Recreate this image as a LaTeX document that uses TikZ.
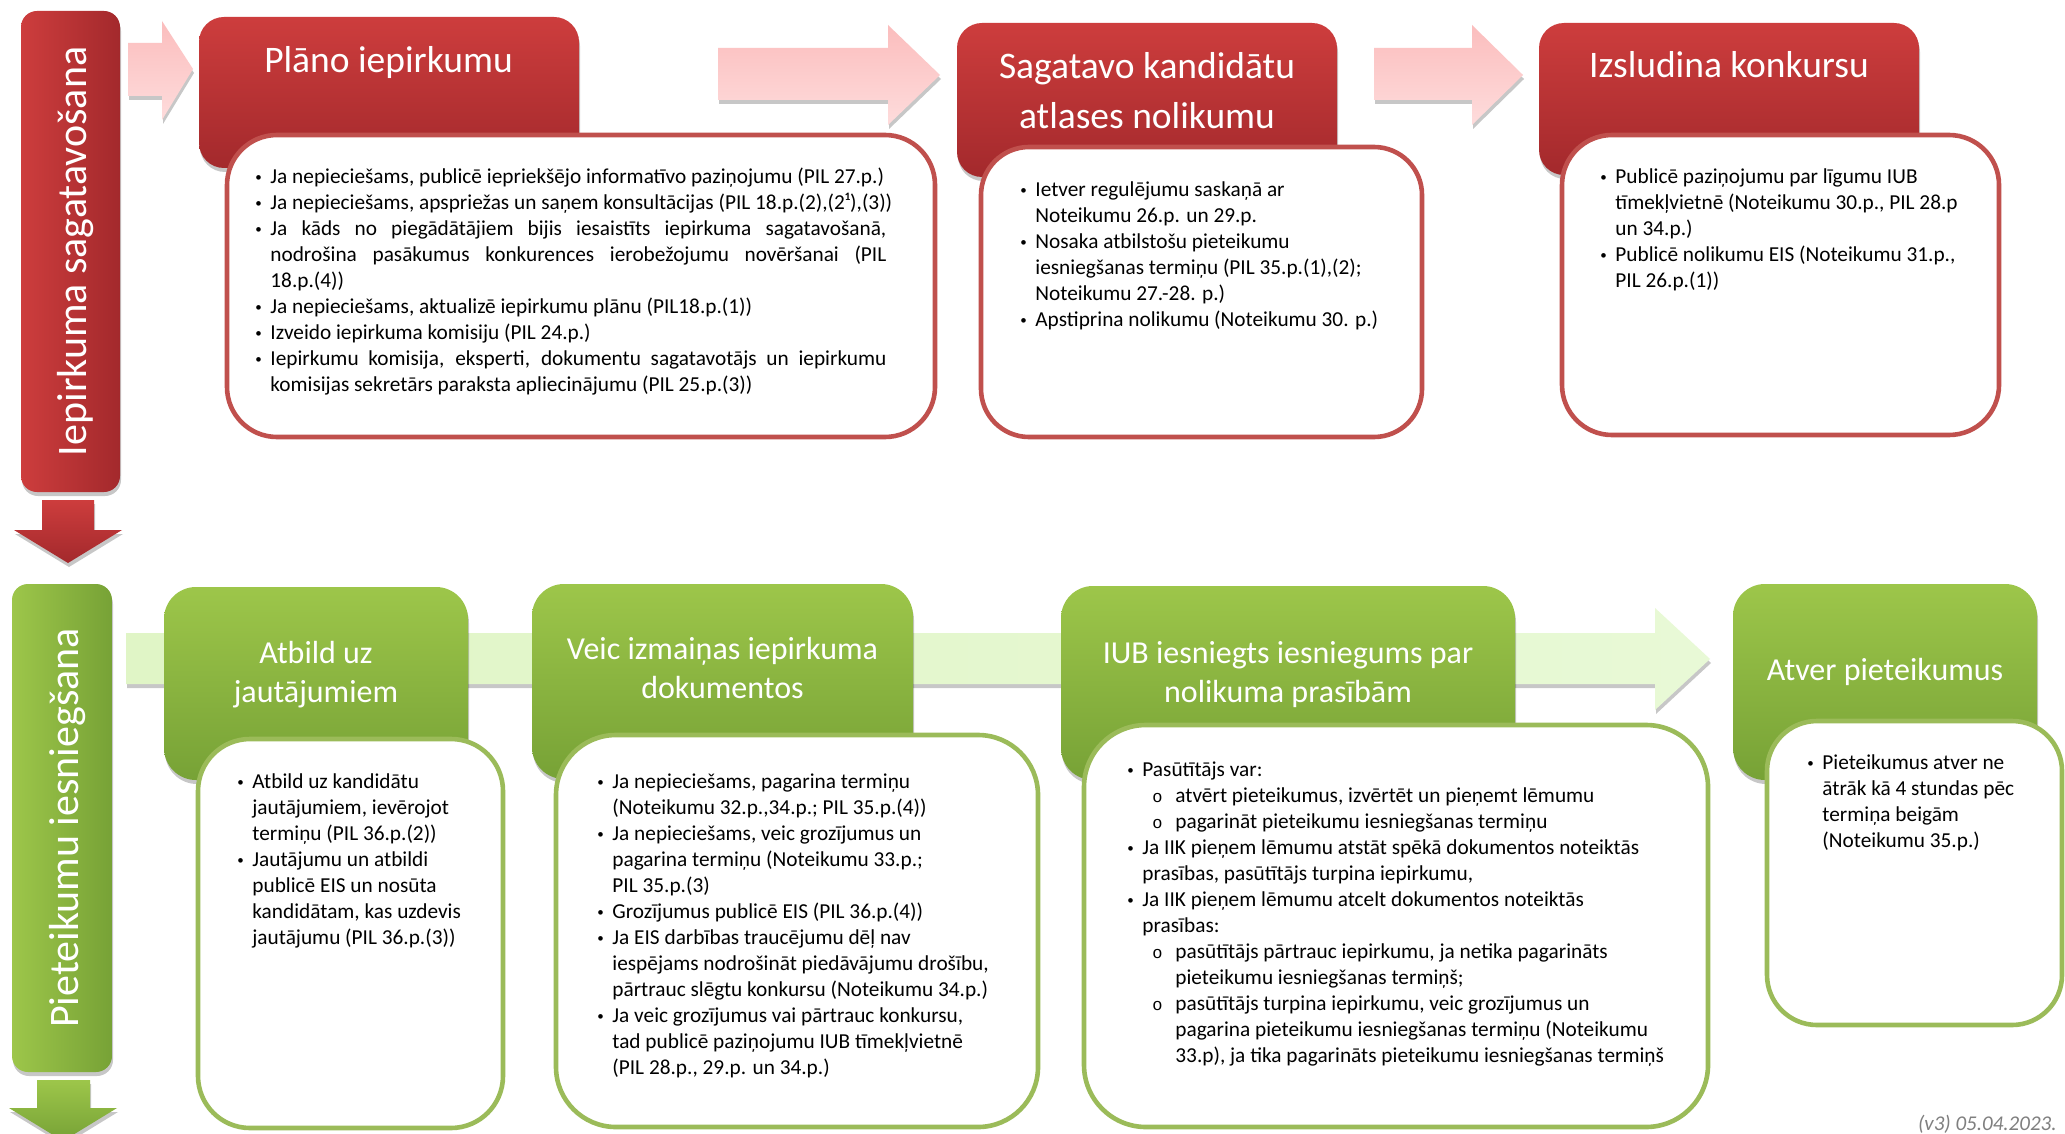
\documentclass[tikz,border=0pt]{standalone}
\usepackage{fontspec}
\setmainfont{Carlito}
\newfontfamily\monof{Liberation Mono}
\usetikzlibrary{shadows}
\definecolor{redA}{HTML}{CD3D3D}
\definecolor{redB}{HTML}{A3292C}
\definecolor{redLine}{HTML}{C0504D}
\definecolor{pinkA}{HTML}{FBBDBD}
\definecolor{pinkB}{HTML}{FEDCDC}
\definecolor{grnA}{HTML}{9DC64A}
\definecolor{grnB}{HTML}{77A236}
\definecolor{grnLine}{HTML}{9BBB59}
\definecolor{bandA}{HTML}{E0F5C6}
\definecolor{bandB}{HTML}{E8F9D6}
\definecolor{verGray}{HTML}{7F7F7F}
\newlength\bh
\setlength\bh{7.5pt}
\newcommand\Dot{\raisebox{1.1pt}{\fontsize{6.5pt}{6.5pt}\selectfont\textbullet}}
\newcommand\Bl[1]{\mbox{\makebox[\bh][l]{\Dot}#1}}
\newcommand\Cl[1]{\mbox{\hspace*{\bh}#1}}
\newcommand\Jb[1]{\hbox to 315.5pt{\makebox[\bh][l]{\Dot}#1}}
\newcommand\Jc[1]{\hbox to 315.5pt{\hspace*{\bh}#1}}
\newcommand\Sb[1]{\mbox{\hspace*{12.5pt}\makebox[11.5pt][l]{\fontsize{8.5pt}{8.5pt}\monof o}#1}}
\newcommand\Sc[1]{\mbox{\hspace*{24pt}#1}}
\newcommand\St{\rule{0pt}{10pt}}
\newcommand\RBox[6]{\node[#2, inner sep=0pt, minimum width={(#5-#3)*0.5pt}, minimum height={(#6-#4)*0.5pt}] (#1) at ({(#3+#5)/2},{(#4+#6)/2}) {};}
\tikzset{
  sh/.style={drop shadow={shadow xshift=0.5pt, shadow yshift=-2pt, opacity=0.22, fill=black}},
  barred/.style={rounded corners=8pt, left color=redA, right color=redB, draw=none, sh},
  bargrn/.style={rounded corners=8pt, left color=grnA, right color=grnB, draw=none, sh},
  redhead/.style={rounded corners=12.5pt, top color=redA, bottom color=redB, draw=none, sh},
  grnhead/.style={rounded corners=16pt, top color=grnA, bottom color=grnB, draw=none, sh},
  redbox/.style={draw=redLine, line width=2.3pt, fill=white, rounded corners=#1},
  grnbox/.style={draw=grnLine, line width=2.3pt, fill=white, rounded corners=#1},
  pinkarrow/.style={top color=pinkA, bottom color=pinkB, draw=none, sh},
  redarrow/.style={top color=redA, bottom color=redB, draw=none, sh},
  grnarrow/.style={top color=grnA, bottom color=grnB, draw=none, sh},
  band/.style={left color=bandA, right color=bandB, draw=none, sh},
  bartext/.style={rotate=90, anchor=base, text=white, inner sep=0pt, font=\fontsize{21pt}{25pt}\selectfont},
  rtitle/.style={anchor=north, text=white, inner sep=0pt, align=center, font=\fontsize{18.75pt}{25pt}\selectfont},
  gtitle/.style={anchor=north, text=white, inner sep=0pt, align=center, font=\fontsize{16pt}{19.5pt}\selectfont},
  btext/.style={anchor=north west, inner sep=0pt, align=left, text=black, font={\fontsize{10.65pt}{13pt}\selectfont}},
}
\begin{document}
\begin{tikzpicture}[x=0.5pt,y=-0.5pt]
\useasboundingbox (0,0) rectangle (2065,1134);
\clip (0,0) rectangle (2065,1134);
\fill[white] (0,0) rectangle (2065,1134);

% ---------- top row ----------
\RBox{barR}{barred}{21}{11}{120}{492}
\node[bartext] (barRt) at (86,251.5) {Iepirkuma sagatavošana};
\path[redarrow] (42,500) -- (94,500) -- (94,530) -- (122,530) -- (68,563) -- (14,530) -- (42,530) -- cycle;

\path[pinkarrow] (128,43) -- (162,43) -- (162,21) -- (193,69) -- (162,120) -- (162,96) -- (128,96) -- cycle;
\path[pinkarrow] (718,48) -- (888,48) -- (888,25) -- (940,75) -- (888,125) -- (888,100) -- (718,100) -- cycle;
\path[pinkarrow] (1374,48) -- (1472,48) -- (1472,25) -- (1523,75) -- (1472,125) -- (1472,100) -- (1374,100) -- cycle;

\RBox{h1}{redhead}{199}{17}{579}{168}
\RBox{h2}{redhead}{957}{23}{1337}{177}
\RBox{h3}{redhead}{1539}{23}{1919}{175}
\node[rtitle] (t1) at (388.5,40) {\rule{0pt}{16pt}Plāno iepirkumu};
\node[rtitle] (t2) at (1147,46) {\rule{0pt}{16pt}Sagatavo kandidātu\\atlases nolikumu};
\node[rtitle] (t3) at (1729,45) {\rule{0pt}{16pt}Izsludina konkursu};

\RBox{b1}{redbox=25pt}{227}{135}{935}{437}
\RBox{b2}{redbox=24pt}{981}{147}{1422}{437}
\RBox{b3}{redbox=25pt}{1562}{135}{1999}{435}

\node[btext] (x1) at (255,163) {\St\Bl{Ja nepieciešams, publicē iepriekšējo informatīvo paziņojumu (PIL 27.p.)}\\
\Bl{Ja nepieciešams, apspriežas un saņem konsultācijas (PIL 18.p.(2),(2¹),(3))}\\
\Jb{Ja kāds no piegādātājiem bijis iesaistīts iepirkuma sagatavošanā,}\\
\Jc{nodrošina pasākumus konkurences ierobežojumu novēršanai (PIL}\\
\Cl{18.p.(4))}\\
\Bl{Ja nepieciešams, aktualizē iepirkumu plānu (PIL18.p.(1))}\\
\Bl{Izveido iepirkuma komisiju (PIL 24.p.)}\\
\Jb{Iepirkumu komisija, eksperti, dokumentu sagatavotājs un iepirkumu}\\
\Cl{komisijas sekretārs paraksta apliecinājumu (PIL 25.p.(3))}};

\node[btext] (x2) at (1020,176) {\St\Bl{Ietver regulējumu saskaņā ar}\\
\Cl{Noteikumu 26.p. un 29.p.}\\
\Bl{Nosaka atbilstošu pieteikumu}\\
\Cl{iesniegšanas termiņu (PIL 35.p.(1),(2);}\\
\Cl{Noteikumu 27.-28. p.)}\\
\Bl{Apstiprina nolikumu (Noteikumu 30. p.)}};

\node[btext] (x3) at (1600,163) {\St\Bl{Publicē paziņojumu par līgumu IUB}\\
\Cl{tīmekļvietnē (Noteikumu 30.p., PIL 28.p}\\
\Cl{un 34.p.)}\\
\Bl{Publicē nolikumu EIS (Noteikumu 31.p.,}\\
\Cl{PIL 26.p.(1))}};

% ---------- bottom row ----------
\path[band] (126,633) -- (1655,633) -- (1655,608) -- (1710,659) -- (1655,710) -- (1655,684) -- (126,684) -- cycle;

\RBox{barG}{bargrn}{12}{584}{112}{1072}
\node[bartext] (barGt) at (78,828) {Pieteikumu iesniegšana};
\path[grnarrow] (37,1080) -- (90,1080) -- (90,1108) -- (117,1108) -- (63,1141) -- (9,1108) -- (37,1108) -- cycle;

\RBox{g1}{grnhead}{164}{587}{468}{780}
\RBox{g2}{grnhead}{532}{584}{913}{779}
\RBox{g3}{grnhead}{1061}{586}{1515}{780}
\RBox{g4}{grnhead}{1733}{584}{2037}{780}
\node[gtitle] (t4) at (316,635) {\rule{0pt}{14pt}Atbild uz\\jautājumiem};
\node[gtitle] (t5) at (722.5,631) {\rule{0pt}{14pt}Veic izmaiņas iepirkuma\\dokumentos};
\node[gtitle] (t6) at (1288,635) {\rule{0pt}{14pt}IUB iesniegts iesniegums par\\nolikuma prasībām};
\node[gtitle] (t7) at (1885,652) {\rule{0pt}{14pt}Atver pieteikumus};

\RBox{w1}{grnbox=26pt}{198}{739}{503}{1128}
\RBox{w2}{grnbox=30pt}{556}{735}{1038}{1127}
\RBox{w3}{grnbox=31pt}{1084}{725}{1708}{1127}
\RBox{w4}{grnbox=25pt}{1767}{721}{2062}{1025}

\node[btext] (y1) at (237,768) {\St\Bl{Atbild uz kandidātu}\\
\Cl{jautājumiem, ievērojot}\\
\Cl{termiņu (PIL 36.p.(2))}\\
\Bl{Jautājumu un atbildi}\\
\Cl{publicē EIS un nosūta}\\
\Cl{kandidātam, kas uzdevis}\\
\Cl{jautājumu (PIL 36.p.(3))}};

\node[btext] (y2) at (597,768) {\St\Bl{Ja nepieciešams, pagarina termiņu}\\
\Cl{(Noteikumu 32.p.,34.p.; PIL 35.p.(4))}\\
\Bl{Ja nepieciešams, veic grozījumus un}\\
\Cl{pagarina termiņu (Noteikumu 33.p.;}\\
\Cl{PIL 35.p.(3)}\\
\Bl{Grozījumus publicē EIS (PIL 36.p.(4))}\\
\Bl{Ja EIS darbības traucējumu dēļ nav}\\
\Cl{iespējams nodrošināt piedāvājumu drošību,}\\
\Cl{pārtrauc slēgtu konkursu (Noteikumu 34.p.)}\\
\Bl{Ja veic grozījumus vai pārtrauc konkursu,}\\
\Cl{tad publicē paziņojumu IUB tīmekļvietnē}\\
\Cl{(PIL 28.p., 29.p. un 34.p.)}};

\node[btext] (y3) at (1127,756) {\St\Bl{Pasūtītājs var:}\\
\Sb{atvērt pieteikumus, izvērtēt un pieņemt lēmumu}\\
\Sb{pagarināt pieteikumu iesniegšanas termiņu}\\
\Bl{Ja IIK pieņem lēmumu atstāt spēkā dokumentos noteiktās}\\
\Cl{prasības, pasūtītājs turpina iepirkumu,}\\
\Bl{Ja IIK pieņem lēmumu atcelt dokumentos noteiktās}\\
\Cl{prasības:}\\
\Sb{pasūtītājs pārtrauc iepirkumu, ja netika pagarināts}\\
\Sc{pieteikumu iesniegšanas termiņš;}\\
\Sb{pasūtītājs turpina iepirkumu, veic grozījumus un}\\
\Sc{pagarina pieteikumu iesniegšanas termiņu (Noteikumu}\\
\Sc{33.p), ja tika pagarināts pieteikumu iesniegšanas termiņš}};

\node[btext] (y4) at (1807,749) {\St\Bl{Pieteikumus atver ne}\\
\Cl{ātrāk kā 4 stundas pēc}\\
\Cl{termiņa beigām}\\
\Cl{(Noteikumu 35.p.)}};

\node[anchor=base east, inner sep=0pt, text=verGray, font=\fontsize{10.5pt}{12pt}\selectfont\itshape] (ver) at (2057,1130) {(v3) 05.04.2023.};
\end{tikzpicture}
\end{document}
